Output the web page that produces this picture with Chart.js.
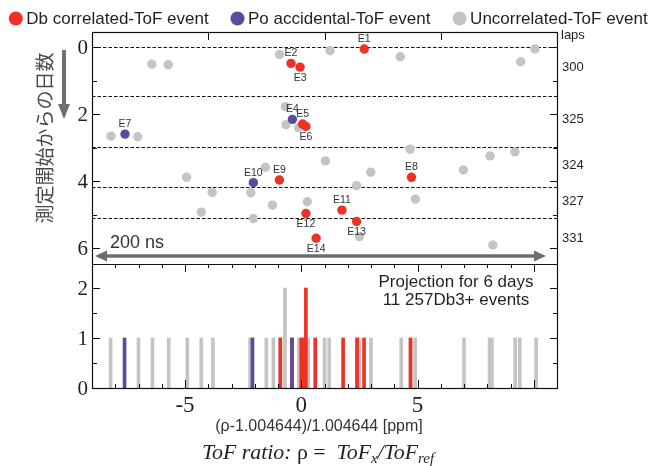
<!DOCTYPE html>
<html><head><meta charset="utf-8">
<script src="https://cdn.jsdelivr.net/npm/chart.js@4.4.0/dist/chart.umd.min.js"></script>
<style>html,body{margin:0;padding:0;background:#fff;}canvas{display:block;}</style>
</head><body>
<canvas id="c" width="654" height="466"></canvas>
<script>
// ---------------- data ----------------
const dbNames = ['E1','E2','E3','E5','E6','E8','E9','E11','E12','E13','E14'];
const dbX     = [2.71,-0.44,-0.05,0.06,0.20,4.74,-0.94,1.75,0.20,2.38,0.64];
const dbDay   = [0.06,0.49,0.60,2.30,2.37,3.89,3.97,4.87,4.97,5.21,5.71];

const poNames = ['E4','E7','E10'];
const poX     = [-0.38,-7.58,-2.06];
const poDay   = [2.16,2.60,4.05];

const unX   = [-6.43,-5.72,-0.93,1.24,4.26,9.44,10.05,-0.68,-0.66,-0.12,-8.18,-7.03,4.68,8.12,9.19,1.04,2.99,6.97,2.38,-1.24,0.26,4.91,2.50,8.24,-4.93,-1.54,-3.83,-2.17,-4.30,-2.06];
const unDay = [0.51,0.53,0.22,0.11,0.29,0.44,0.06,1.78,2.32,2.41,2.66,2.68,3.05,3.25,3.13,3.40,3.74,3.67,4.14,4.72,4.62,4.54,5.66,5.91,3.89,3.59,4.34,4.35,4.93,5.12];

const lapBoundaryDays = [0.01,1.45,2.98,4.17,5.11];
const lapLabels       = ['300','325','324','327','331'];
const lapLabelDays    = [0.60,2.15,3.52,4.60,5.70];

const dayTickLabels   = [0,2,4,6];
const countTickLabels = [0,1,2];
const ppmTickLabels   = [-5,0,5];

const legendLabels = ['Db correlated-ToF event','Po accidental-ToF event','Uncorrelated-ToF event'];
const BIN = 0.1; // histogram bin width [ppm]

// ---------------- style ----------------
const RED='#ee3124', PURPLE='#5b4b9e', GRAY='#c4c4c4', INK='#231f20';
const SANS='"Liberation Sans", Arial, Helvetica, sans-serif';
const SERIF='"Liberation Serif", "Times New Roman", serif';
const labelBelow = new Set(['E3','E6','E12','E13','E14']);

function pts(xs, ys){ return xs.map((v,i)=>({x:v,y:ys[i]})); }
function hist(xs){
  const m = new Map();
  xs.forEach(v=>{ const k=Math.round(v/BIN); m.set(k,(m.get(k)||0)+1); });
  return [...m].map(([k,c])=>({x:k*BIN,y:c}));
}

const scatterDs = (label,data,color)=>({type:'scatter',label,data,xAxisID:'x',yAxisID:'yUp',
  backgroundColor:color,borderWidth:0,pointRadius:4.7,pointHoverRadius:4.7});
const barDs = (label,data,color)=>({type:'bar',label,data,xAxisID:'x',yAxisID:'yHist',
  backgroundColor:color,borderWidth:0,barThickness:3,grouped:false});

const decor = {
  id:'decor',
  beforeDatasetsDraw(chart){
    const {ctx, chartArea:{left:L,right:R}, scales:{yUp}} = chart;
    ctx.save();
    ctx.strokeStyle='#111'; ctx.lineWidth=1; ctx.setLineDash([3.5,2]);
    lapBoundaryDays.forEach(d=>{
      const y=Math.round(yUp.getPixelForValue(d))+0.5;
      ctx.beginPath(); ctx.moveTo(L,y); ctx.lineTo(R,y); ctx.stroke();
    });
    ctx.restore();
  },
  afterDatasetsDraw(chart){
    const {ctx, chartArea:{left:L,right:R,top:T,bottom:B}, scales:{x,yUp,yHist}} = chart;
    const MID = Math.round(yHist.getPixelForValue(2.48));
    ctx.save();
    // event labels
    ctx.fillStyle='#333'; ctx.font='10.5px '+SANS; ctx.textAlign='center'; ctx.textBaseline='middle';
    const lab=(names,xs,ys)=>names.forEach((n,i)=>{
      const px=x.getPixelForValue(xs[i]), py=yUp.getPixelForValue(ys[i]);
      ctx.fillText(n, px, labelBelow.has(n)? py+11 : py-10);
    });
    lab(dbNames,dbX,dbDay); lab(poNames,poX,poDay);

    // frame
    ctx.strokeStyle='#111'; ctx.lineWidth=1.2;
    ctx.strokeRect(L+0.5,T+0.5,R-L,B-T);
    ctx.beginPath(); ctx.moveTo(L,MID+0.5); ctx.lineTo(R+1,MID+0.5); ctx.stroke();
    ctx.lineWidth=1;
    const hline=(x0,y0,x1,y1)=>{ctx.beginPath();ctx.moveTo(x0,y0);ctx.lineTo(x1,y1);ctx.stroke();};
    // top ticks
    for(let v=-4; v<11; v+=5){ const px=Math.round(x.getPixelForValue(v))+0.5; hline(px,T,px,T+8); }
    // mid and bottom ticks
    for(let v=-8; v<=10; v++){
      const px=Math.round(x.getPixelForValue(v))+0.5; const len=(v%5===0)?8:4;
      hline(px,MID,px,MID+len); hline(px,B,px,B-len);
    }
    // upper day ticks
    for(let d=0; d<=6; d++){
      const py=Math.round(yUp.getPixelForValue(d))+0.5; const len=(d%2===0)?8:5;
      hline(L,py,L+len,py); hline(R+1,py,R+1-len,py);
    }
    // hist count ticks
    for(let c=0.5; c<=2; c+=0.5){
      const py=Math.round(yHist.getPixelForValue(c))+0.5; const len=(c%1===0)?8:5;
      hline(L,py,L+len,py); hline(R+1,py,R+1-len,py);
    }
    // tick labels (serif)
    ctx.fillStyle=INK; ctx.font='21px '+SERIF; ctx.textAlign='right'; ctx.textBaseline='middle';
    dayTickLabels.forEach(d=>ctx.fillText(String(d),88,yUp.getPixelForValue(d)+1));
    countTickLabels.forEach(c=>ctx.fillText(String(c),88,yHist.getPixelForValue(c)+1));
    ctx.font='23px '+SERIF; ctx.textAlign='center'; ctx.textBaseline='alphabetic';
    ppmTickLabels.forEach(v=>ctx.fillText(String(v),x.getPixelForValue(v),412));

    // lap labels
    ctx.font='13px '+SANS; ctx.textAlign='left'; ctx.textBaseline='middle'; ctx.fillStyle=INK;
    ctx.fillText('laps',561,35);
    lapLabels.forEach((s,i)=>ctx.fillText(s,562,yUp.getPixelForValue(lapLabelDays[i])));

    // 200 ns arrow
    const ay=256, ax0=95, ax1=546, ac='#6d6d6d';
    ctx.strokeStyle=ac; ctx.fillStyle=ac; ctx.lineWidth=3.5;
    hline(ax0+8,ay,ax1-8,ay);
    ctx.beginPath(); ctx.moveTo(ax0,ay); ctx.lineTo(ax0+12,ay-5.5); ctx.lineTo(ax0+12,ay+5.5); ctx.closePath(); ctx.fill();
    ctx.beginPath(); ctx.moveTo(ax1,ay); ctx.lineTo(ax1-12,ay-5.5); ctx.lineTo(ax1-12,ay+5.5); ctx.closePath(); ctx.fill();
    ctx.fillStyle='#333'; ctx.font='18px '+SANS; ctx.textAlign='left'; ctx.textBaseline='alphabetic';
    ctx.fillText('200 ns',110,248);

    // projection text
    ctx.fillStyle=INK; ctx.font='17px '+SANS; ctx.textAlign='center'; ctx.textBaseline='middle';
    ctx.fillText('Projection for 6 days',456,282);
    ctx.fillText('11 257Db3+ events',456,300);

    // left title + arrow
    ctx.save(); ctx.translate(45,138); ctx.rotate(-Math.PI/2);
    ctx.fillStyle='#4a4a4a'; ctx.font='19px "Noto Sans CJK JP", sans-serif'; ctx.textAlign='center'; ctx.textBaseline='middle';
    ctx.fillText('測定開始からの日数',0,0); ctx.restore();
    ctx.strokeStyle='#707070'; ctx.fillStyle='#707070'; ctx.lineWidth=4;
    hline(64,50,64,106);
    ctx.beginPath(); ctx.moveTo(64,119); ctx.lineTo(58,104); ctx.lineTo(70,104); ctx.closePath(); ctx.fill();

    // x axis title
    ctx.fillStyle='#333'; ctx.font='16px '+SANS; ctx.textAlign='center'; ctx.textBaseline='middle';
    ctx.fillText('(ρ-1.004644)/1.004644 [ppm]',319,427);

    // formula (scaled to reference width)
    const mk=(s)=>{
      const big='italic '+(19*s)+'px '+SERIF, up=(19*s)+'px '+SERIF, sub='italic '+(13*s)+'px '+SERIF;
      return [['ToF ratio:',big,0],[' ρ =  ',up,0],['ToF',big,0],['x',sub,4],['/ToF',big,0],['ref',sub,4]];
    };
    const widthOf=(parts)=>{let w=0; parts.forEach(p=>{ctx.font=p[1]; w+=ctx.measureText(p[0]).width;}); return w;};
    const sc = 259/widthOf(mk(1));
    const parts = mk(Math.min(sc,1.15));
    const w = widthOf(parts);
    let cx=318-w/2; ctx.textAlign='left'; ctx.textBaseline='alphabetic'; ctx.fillStyle=INK;
    parts.forEach(p=>{ctx.font=p[1]; ctx.fillText(p[0],cx,459+p[2]); cx+=ctx.measureText(p[0]).width;});

    // legend
    const lc=[RED,PURPLE,GRAY], lx=[15.8,237.5,459.6];
    ctx.font='17px '+SANS; ctx.textBaseline='middle';
    legendLabels.forEach((s,i)=>{
      ctx.fillStyle=lc[i]; ctx.beginPath(); ctx.arc(lx[i],18.5,7,0,Math.PI*2); ctx.fill();
      ctx.fillStyle=INK; ctx.fillText(s,lx[i]+10.5,19);
    });
    ctx.restore();
  }
};

new Chart(document.getElementById('c'), {
  type:'scatter',
  data:{datasets:[
    scatterDs('Po accidental-ToF event',pts(poX,poDay),PURPLE),
    scatterDs('Db correlated-ToF event',pts(dbX,dbDay),RED),
    scatterDs('Uncorrelated-ToF event',pts(unX,unDay),GRAY),
    barDs('Po hist',hist(poX),PURPLE),
    barDs('Db hist',hist(dbX),RED),
    barDs('Un hist',hist(unX),GRAY)
  ]},
  options:{
    responsive:false, animation:false, events:[],
    layout:{padding:{left:92,right:97,top:32,bottom:78}},
    plugins:{legend:{display:false},tooltip:{enabled:false}},
    scales:{
      x:{type:'linear',min:-9,max:11,offset:false,display:false},
      yUp:{type:'linear',reverse:true,min:-0.448,max:10.179,display:false},
      yHist:{type:'linear',min:0,max:7.12,display:false}
    }
  },
  plugins:[decor]
});
</script>
</body></html>
